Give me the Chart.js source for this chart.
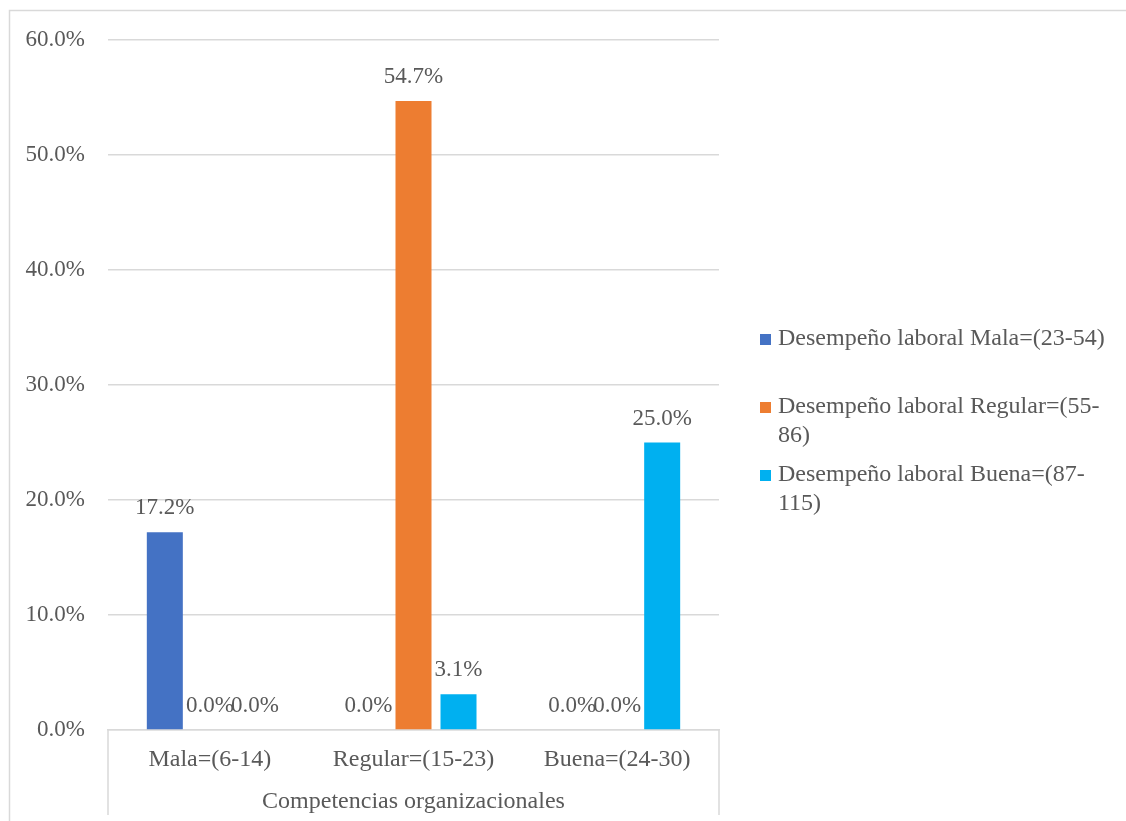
<!DOCTYPE html>
<html>
<head>
<meta charset="utf-8">
<script src="https://cdn.jsdelivr.net/npm/chart.js@4"></script>
<style>
  html, body { margin: 0; padding: 0; background: #fff; overflow: hidden; }
  #wrap { width: 1126px; height: 821px; position: relative; }
</style>
</head>
<body>
<div id="wrap"><canvas id="grafico"></canvas></div>
<script>
const categorias = ['Mala=(6-14)', 'Regular=(15-23)', 'Buena=(24-30)']
const series = [
  'Desempeño laboral Mala=(23-54)',
  'Desempeño laboral Regular=(55-86)',
  'Desempeño laboral Buena=(87-115)'
]
const mala = [17.2, 0.0, 0.0]
const regular = [0.0, 54.7, 0.0]
const buena = [0.0, 3.1, 25.0]
const colores = ['#4472C4', '#ED7D31', '#00B0F0']
const tituloX = 'Competencias organizacionales'

const gris = '#595959'
const fuente = "'Liberation Serif', 'Times New Roman', serif"

// borde del grafico + lineas del eje de categorias
const marco = {
  id: 'marco',
  beforeDraw(chart) {
    const { ctx } = chart
    ctx.save()
    ctx.fillStyle = '#fff'
    ctx.fillRect(0, 0, chart.width, chart.height)
    ctx.strokeStyle = '#d9d9d9'
    ctx.lineWidth = 1.5
    ctx.strokeRect(9.5, 10.5, 1400, 1000)
    ctx.restore()
  },
  afterDraw(chart) {
    const { ctx, chartArea } = chart
    ctx.save()
    ctx.strokeStyle = '#d9d9d9'
    ctx.lineWidth = 1.5
    ctx.beginPath()
    ctx.moveTo(chartArea.left, chartArea.bottom)
    ctx.lineTo(chartArea.left, 815)
    ctx.moveTo(chartArea.right, chartArea.bottom)
    ctx.lineTo(chartArea.right, 815)
    ctx.stroke()
    ctx.restore()
  }
}

// etiquetas de valor encima de cada barra
const etiquetas = {
  id: 'etiquetas',
  afterDatasetsDraw(chart) {
    const { ctx } = chart
    ctx.save()
    ctx.font = '23px ' + fuente
    ctx.fillStyle = gris
    ctx.textAlign = 'center'
    ctx.textBaseline = 'middle'
    chart.data.datasets.forEach((ds, i) => {
      chart.getDatasetMeta(i).data.forEach((bar, j) => {
        ctx.fillText(ds.data[j].toFixed(1) + '%', bar.x, bar.y - 24)
      })
    })
    ctx.restore()
  }
}

// leyenda a la derecha con texto partido en lineas
const leyenda = {
  id: 'leyenda',
  afterDraw(chart) {
    const { ctx } = chart
    const x = 760, y0 = 339, paso = 68, alto = 29, maxAncho = 335
    ctx.save()
    ctx.font = '24px ' + fuente
    ctx.textBaseline = 'middle'
    chart.data.datasets.forEach((ds, i) => {
      const partes = ds.label.split(/(?<=[ -])/)
      const lineas = []
      let actual = ''
      partes.forEach(p => {
        if (actual && ctx.measureText(actual + p).width > maxAncho) {
          lineas.push(actual)
          actual = p
        } else {
          actual += p
        }
      })
      lineas.push(actual)
      const y = y0 + i * paso
      ctx.fillStyle = ds.backgroundColor
      ctx.fillRect(x, y - 5, 11, 11)
      ctx.fillStyle = gris
      lineas.forEach((l, k) => ctx.fillText(l.trimEnd(), x + 18, y + k * alto))
    })
    ctx.restore()
  }
}

const ctx = document.querySelector('#grafico').getContext('2d')
const myChart = new Chart(ctx, {
  type: 'bar',
  data: {
    labels: categorias,
    datasets: [
      { label: series[0], data: mala, backgroundColor: colores[0] },
      { label: series[1], data: regular, backgroundColor: colores[1] },
      { label: series[2], data: buena, backgroundColor: colores[2] }
    ]
  },
  options: {
    responsive: true,
    maintainAspectRatio: false,
    animation: false,
    datasets: {
      bar: { barPercentage: 0.8, categoryPercentage: 0.663 }
    },
    layout: { padding: { top: 40, right: 407, bottom: 0, left: 0 } },
    plugins: {
      legend: { display: false },
      tooltip: { enabled: false }
    },
    scales: {
      x: {
        grid: { display: false, drawTicks: false },
        border: { display: true, color: '#d9d9d9', width: 1.5 },
        ticks: { color: gris, font: { family: fuente, size: 24 }, padding: 15, maxRotation: 0 },
        title: {
          display: true,
          text: tituloX,
          color: gris,
          font: { family: fuente, size: 24 },
          padding: { top: 0, bottom: 5 }
        },
        afterFit(scale) { scale.height = 91 }
      },
      y: {
        min: 0,
        max: 60,
        ticks: {
          stepSize: 10,
          color: gris,
          font: { family: fuente, size: 23 },
          padding: 23,
          callback: v => v.toFixed(1) + '%'
        },
        grid: { color: '#d9d9d9', lineWidth: 1.5, drawTicks: false },
        border: { display: false },
        afterFit(scale) { scale.width = 108 }
      }
    }
  },
  plugins: [marco, etiquetas, leyenda]
})
</script>
</body>
</html>
